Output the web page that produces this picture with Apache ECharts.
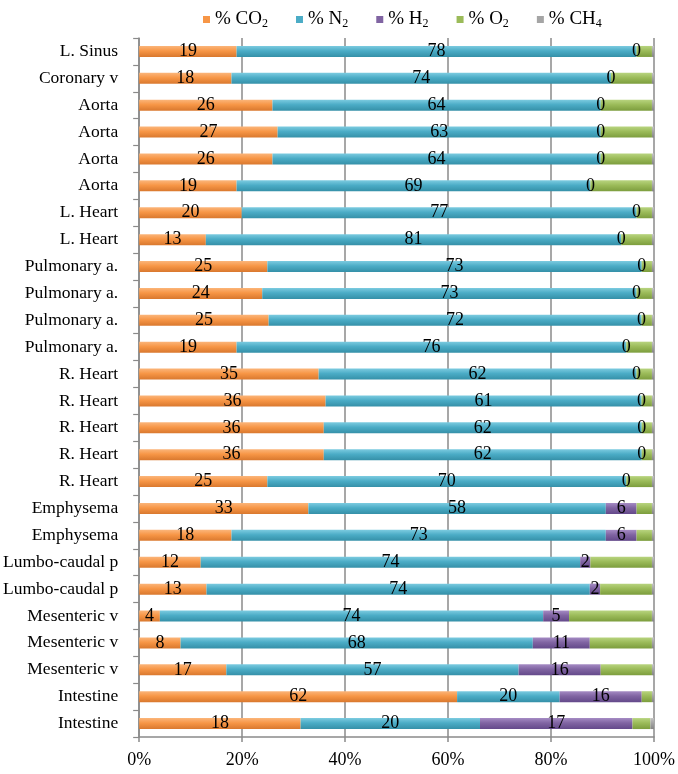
<!DOCTYPE html>
<html>
<head>
<meta charset="utf-8">
<script src="https://cdn.jsdelivr.net/npm/echarts@6/dist/echarts.min.js"></script>
<style>
html,body{margin:0;padding:0;background:#fff;}
#chart{width:678px;height:774px;}
</style>
</head>
<body>
<div id="chart"></div>
<script>
const categories = ['L. Sinus','Coronary v','Aorta','Aorta','Aorta','Aorta','L. Heart','L. Heart',
  'Pulmonary a.','Pulmonary a.','Pulmonary a.','Pulmonary a.','R. Heart','R. Heart','R. Heart','R. Heart','R. Heart',
  'Emphysema','Emphysema','Lumbo-caudal p','Lumbo-caudal p','Mesenteric v','Mesenteric v','Mesenteric v',
  'Intestine','Intestine'];
const co2 = [19,18,26,27,26,19,20,13,25,24,25,19,35,36,36,36,25,33,18,12,13,4,8,17,62,18];
const n2  = [78,74,64,63,64,69,77,81,73,73,72,76,62,61,62,62,70,58,73,74,74,74,68,57,20,20];
const h2  = [0,0,0,0,0,0,0,0,0,0,0,0,0,0,0,0,0,6,6,2,2,5,11,16,16,17];
const o2  = [3,8,10,10,10,12,3,6,2,3,2,5,3,2,2,2,5,3,3,12,10,16,12,10,2,2];
const ch4 = [0.4,0.4,0.4,0.4,0.4,0.4,0.4,0.4,0.4,0.4,0.4,0.4,0.4,0.4,0.4,0.4,0.4,0.4,0.4,0.4,0.4,0.4,0.4,0.4,0.4,0.4];
const xTicks = ['0%','20%','40%','60%','80%','100%'];

const seriesNames = ['CO2','N2','H2','O2','CH4'];
const legendText = {CO2:'% CO{s|2}', N2:'% N{s|2}', H2:'% H{s|2}', O2:'% O{s|2}', CH4:'% CH{s|4}'};
const raw = [co2, n2, h2, o2, ch4];
const totals = categories.map((c,i)=>raw.reduce((a,arr)=>a+arr[i],0));
const colors = [
  ['#FBB57A','#F79646','#D9782E'],
  ['#7CCBE0','#4BACC6','#3590A8'],
  ['#A58BC4','#8064A2','#64498A'],
  ['#B8D47F','#9BBB59','#7C9D3D'],
  ['#C4C4C4','#A5A5A5','#858585']
];
const FONT = '"Liberation Serif","Times New Roman",serif';
const grad = si => new echarts.graphic.LinearGradient(0,0,0,1,[
  {offset:0,color:colors[si][0]},
  {offset:0.45,color:colors[si][1]},
  {offset:1,color:colors[si][2]}
]);

const series = raw.map((arr, si) => ({
  name: seriesNames[si],
  type: 'bar',
  stack: 'total',
  barWidth: 11,
  data: arr.map((v,i)=> v / totals[i] * 100),
  itemStyle: { color: grad(si) },
  label: {
    show: si < 3,
    position: 'inside',
    color: '#000',
    fontFamily: FONT,
    fontSize: 18,
    formatter: p => String(raw[si][p.dataIndex])
  },
  emphasis: {disabled: true}
}));

const chart = echarts.init(document.getElementById('chart'), null, {renderer:'canvas'});
chart.setOption({
  animation: false,
  color: colors.map(c=>c[1]),
  legend: {
    top: 5,
    left: 198,
    data: seriesNames.map((n,si)=>({name:n, itemStyle:{color:colors[si][1]}})),
    itemWidth: 7,
    itemHeight: 7,
    itemGap: 28,
    icon: 'rect',
    formatter: n => legendText[n],
    textStyle: {
      fontFamily: FONT, fontSize: 19, color: '#000',
      rich: { s: { fontFamily: FONT, fontSize: 12, padding: [9,0,0,0] } }
    }
  },
  grid: { left: 137, right: 23, top: 38, bottom: 37, containLabel: false },
  xAxis: {
    type: 'value',
    min: 0, max: 100, interval: 20,
    axisLine: { show: true, lineStyle: { color: '#8a8a8a', width: 1.5 } },
    axisTick: { show: true, length: 5, lineStyle: { color: '#8a8a8a', width: 1.5 } },
    splitLine: { show: true, lineStyle: { color: '#8a8a8a', width: 1.5 } },
    axisLabel: {
      fontFamily: FONT, fontSize: 18, color: '#000', margin: 14,
      formatter: v => xTicks[Math.round(v/20)]
    }
  },
  yAxis: {
    type: 'category',
    inverse: true,
    data: categories,
    axisLine: { show: true, lineStyle: { color: '#8a8a8a', width: 1.5 } },
    axisTick: { show: true, length: 6, lineStyle: { color: '#8a8a8a', width: 1.2 } },
    axisLabel: { fontFamily: FONT, fontSize: 17.5, color: '#000', margin: 21 }
  },
  series: series
});
</script>
</body>
</html>
